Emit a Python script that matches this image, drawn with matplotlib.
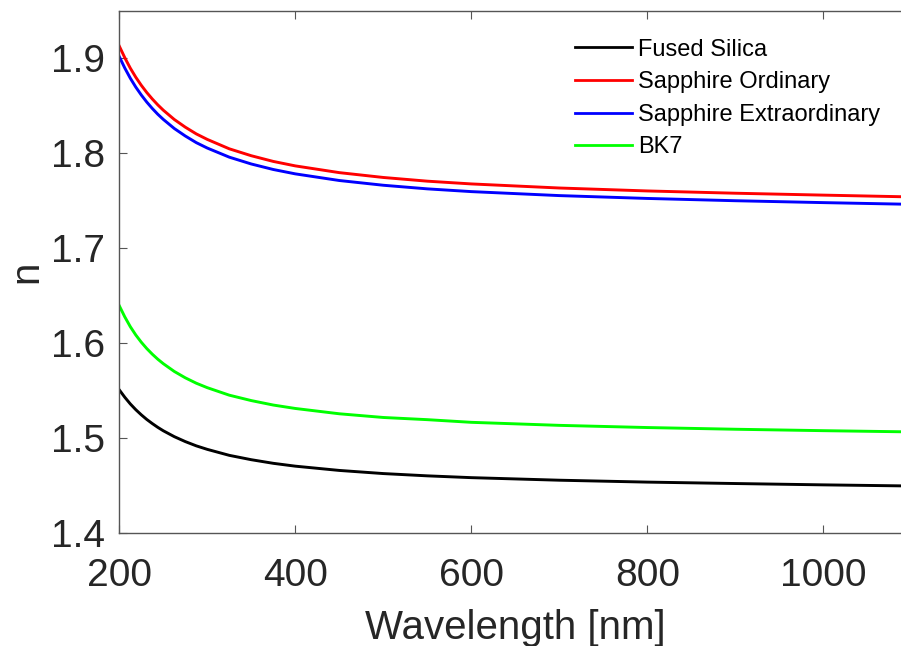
import matplotlib
matplotlib.use("Agg")
import matplotlib.pyplot as plt

plt.rcParams['font.family'] = ['Liberation Sans', 'DejaVu Sans']

# wavelength [nm]
wavelength = [200, 206.25, 212.5, 218.75, 225, 231.25, 237.5, 243.75, 250,
              262.5, 275, 287.5, 300, 325, 350, 375, 400, 450, 500, 550,
              600, 700, 800, 900, 1000, 1100]

fused_silica = [1.5505, 1.5427, 1.5357, 1.5296, 1.5242, 1.5193, 1.5150,
                1.5110, 1.5074, 1.5012, 1.4960, 1.4915, 1.4878, 1.4815,
                1.4769, 1.4731, 1.4701, 1.4656, 1.4623, 1.4599, 1.4580,
                1.4553, 1.4533, 1.4518, 1.4504, 1.4492]
sapphire_o = [1.9127, 1.9005, 1.8895, 1.8799, 1.8714, 1.8638, 1.8570,
              1.8508, 1.8452, 1.8354, 1.8273, 1.8202, 1.8144, 1.8045,
              1.7972, 1.7912, 1.7865, 1.7794, 1.7743, 1.7704, 1.7675,
              1.7632, 1.7601, 1.7577, 1.7557, 1.7538]
sapphire_e = [1.9016, 1.8896, 1.8789, 1.8695, 1.8612, 1.8537, 1.8470,
              1.8409, 1.8355, 1.8259, 1.8180, 1.8110, 1.8053, 1.7957,
              1.7885, 1.7827, 1.7781, 1.7711, 1.7661, 1.7623, 1.7594,
              1.7552, 1.7522, 1.7498, 1.7478, 1.7460]
bk7 = [1.6391, 1.6274, 1.6171, 1.6083, 1.6007, 1.5940, 1.5881, 1.5828,
       1.5781, 1.5699, 1.5632, 1.5575, 1.5528, 1.5449, 1.5392, 1.5345,
       1.5309, 1.5253, 1.5214, 1.5191, 1.5163, 1.5131, 1.5108, 1.5090,
       1.5075, 1.5062]

series = [
    ("Fused Silica", fused_silica, "#000000"),
    ("Sapphire Ordinary", sapphire_o, "#ff0000"),
    ("Sapphire Extraordinary", sapphire_e, "#0000ff"),
    ("BK7", bk7, "#00ff00"),
]

fig = plt.figure(figsize=(9.01, 6.46), dpi=100)
ax = fig.add_axes([0.1324, 0.1754, 0.879, 0.808])

for label, vals, col in series:
    ax.plot(wavelength, vals, color=col, lw=2.1, label=label)

ax.set_xlim(200, 1100)
ax.set_ylim(1.4, 1.95)
ax.set_xticks([200, 400, 600, 800, 1000])
ax.set_yticks([1.4, 1.5, 1.6, 1.7, 1.8, 1.9])
ax.set_yticklabels(["1.4", "1.5", "1.6", "1.7", "1.8", "1.9"])

for s in ax.spines.values():
    s.set_color("#555555")
    s.set_linewidth(1.0)
ax.tick_params(direction='in', length=6, width=0.8, color="#555555",
               top=True, right=True, labelsize=28, labelcolor="#262626")
ax.tick_params(axis='x', pad=18)
ax.tick_params(axis='y', pad=10)

ax.set_xlabel("Wavelength [nm]", fontsize=29, color="#262626", labelpad=11)
ax.set_ylabel("n", fontsize=29, color="#262626", labelpad=4)

leg = ax.legend(loc='upper right', bbox_to_anchor=(0.987, 0.955),
                bbox_transform=fig.transFigure, frameon=False,
                fontsize=17, handlelength=2.4, handletextpad=0.25,
                labelspacing=0.45, borderaxespad=0)
for h in leg.get_lines():
    h.set_linewidth(2)

fig.savefig("out.png", dpi=100)
